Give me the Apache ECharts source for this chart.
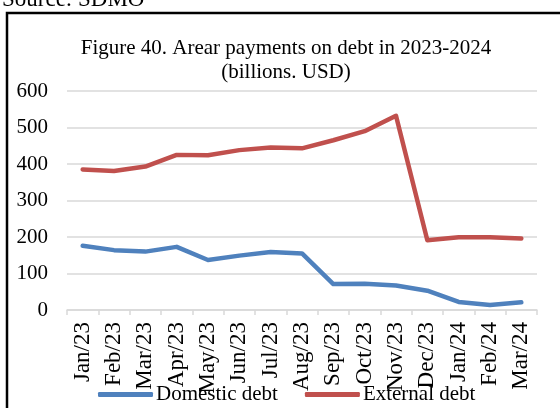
<!DOCTYPE html>
<html>
<head>
<meta charset="utf-8">
<script src="https://cdn.jsdelivr.net/npm/echarts@6/dist/echarts.min.js"></script>
<style>html,body{margin:0;padding:0;background:#fff;}#c{width:560px;height:408px;}</style>
</head>
<body>
<div id="c"></div>
<script>
const categories = ['Jan/23','Feb/23','Mar/23','Apr/23','May/23','Jun/23','Jul/23','Aug/23','Sep/23','Oct/23','Nov/23','Dec/23','Jan/24','Feb/24','Mar/24'];
const domesticDebt = [176, 164, 160, 173, 137, 149, 159, 155, 71, 72, 67, 53, 22, 14, 21];
const externalDebt = [385, 381, 393, 425, 424, 438, 445, 443, 465, 490, 532, 191, 199, 199, 196];
const yTicks = [0, 100, 200, 300, 400, 500, 600];
const seriesNames = ['Domestic debt', 'External debt'];
const titleLines = ['Figure 40. Arear payments on debt in 2023-2024', '(billions. USD)'];
const sourceText = 'Source: SDMO';

const FONT = '"Liberation Serif", "DejaVu Serif", serif';
const chart = echarts.init(document.getElementById('c'), null, {renderer: 'canvas'});
chart.setOption({
  animation: false,
  backgroundColor: '#ffffff',
  title: {
    text: titleLines.join('\n'),
    left: 286,
    top: 36,
    textAlign: 'center',
    padding: 0,
    textStyle: {fontFamily: FONT, fontSize: 21, fontWeight: 'normal', color: '#000', lineHeight: 24}
  },
  graphic: [
    {type: 'text', left: 2, top: -12, style: {text: sourceText, font: '23px ' + FONT, fill: '#000'}},
    {type: 'polyline', shape: {points: [[7, 420], [7, 13], [562, 13]]}, style: {stroke: '#000', lineWidth: 2.5, fill: null}}
  ],
  legend: {
    data: seriesNames,
    left: 98,
    top: 384,
    padding: 0,
    itemWidth: 55,
    itemHeight: 5,
    itemGap: 27,
    icon: 'roundRect',
    textStyle: {fontFamily: FONT, fontSize: 21, color: '#000', padding: [0, 0, 0, -2]}
  },
  grid: {left: 67, right: 23, top: 91, bottom: 98, containLabel: false},
  xAxis: {
    type: 'category',
    data: categories,
    boundaryGap: true,
    axisLine: {show: true, lineStyle: {color: '#d9d9d9', width: 1.5}},
    axisTick: {show: true, length: 5, interval: 0, lineStyle: {color: '#d9d9d9', width: 1.5}},
    axisLabel: {rotate: 90, interval: 0, margin: 12, fontFamily: FONT, fontSize: 23, color: '#000'}
  },
  yAxis: {
    type: 'value',
    min: yTicks[0],
    max: yTicks[yTicks.length - 1],
    interval: 100,
    axisLine: {show: false},
    axisTick: {show: false},
    splitLine: {lineStyle: {color: '#d9d9d9', width: 1.5}},
    axisLabel: {margin: 19, fontFamily: FONT, fontSize: 21, color: '#000'}
  },
  series: [
    {name: seriesNames[0], type: 'line', data: domesticDebt, showSymbol: false, symbol: 'none',
     itemStyle: {color: '#4f81bd'},
     lineStyle: {color: '#4f81bd', width: 4.5, cap: 'round', join: 'round'}},
    {name: seriesNames[1], type: 'line', data: externalDebt, showSymbol: false, symbol: 'none',
     itemStyle: {color: '#c0504d'},
     lineStyle: {color: '#c0504d', width: 4.5, cap: 'round', join: 'round'}}
  ]
});
</script>
</body>
</html>
